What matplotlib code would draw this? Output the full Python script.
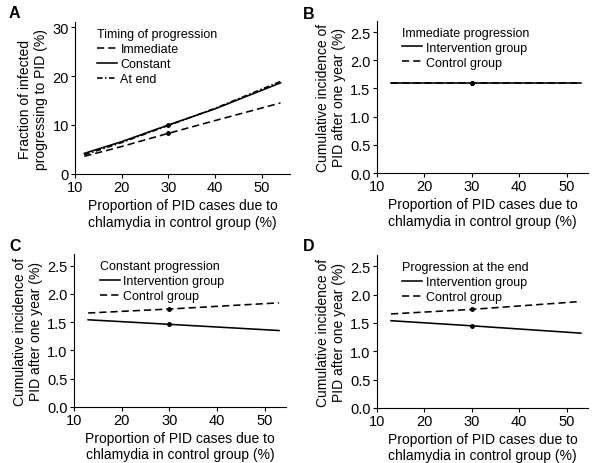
import matplotlib
matplotlib.use("Agg")
import matplotlib.pyplot as plt
from matplotlib.lines import Line2D

plt.rcParams['font.family'] = ['Liberation Sans', 'DejaVu Sans']
plt.rcParams['font.size'] = 9.5

# panel A: fraction progressing to PID
xa = [12, 20, 30, 40, 54]
a_immediate = [3.6, 5.6, 8.3, 10.9, 14.5]
a_constant = [4.2, 6.6, 10.0, 13.3, 18.6]
a_atend = [3.9, 6.4, 9.9, 13.4, 18.9]
a_dot_x = [30, 30]
a_dot_y = [8.3, 10.0]

# panels B-D: cumulative incidence after one year
xb = [13, 30, 53]
b_interv = [1.60, 1.60, 1.60]
b_control = [1.59, 1.59, 1.59]
c_interv = [1.54, 1.46, 1.35]
c_control = [1.66, 1.73, 1.84]
d_interv = [1.54, 1.45, 1.32]
d_control = [1.66, 1.74, 1.88]

xlabel = "Proportion of PID cases due to\nchlamydia in control group (%)"
ylabel_bcd = "Cumulative incidence of\nPID after one year (%)"

fig = plt.figure(figsize=(6, 4.64), dpi=100)
axA = fig.add_axes([0.125, 0.623, 0.358, 0.327])
axB = fig.add_axes([0.628, 0.625, 0.352, 0.328])
axC = fig.add_axes([0.123, 0.121, 0.354, 0.329])
axD = fig.add_axes([0.628, 0.119, 0.352, 0.329])

def style(ax):
    for s in ['top', 'right']:
        ax.spines[s].set_visible(False)
    ax.tick_params(direction='out', length=3, width=0.8, labelsize=10.5, pad=1.5)
    ax.set_xlabel(xlabel, fontsize=10, labelpad=3)

lw = 1.15
dash = (0, (4.5, 2.5))
dashdot = (0, (3.5, 1.5, 1, 1.5))
# A
axA.plot(xa, a_immediate, color='black', lw=lw, ls=dash)
axA.plot(xa, a_constant, color='black', lw=lw, ls='-')
axA.plot(xa, a_atend, color='black', lw=lw, ls=dashdot)
axA.plot(a_dot_x, a_dot_y, 'o', color='black', ms=2.5, ls='none')
axA.set_xlim(10, 56)
axA.set_ylim(0, 31)
axA.set_xticks([10, 20, 30, 40, 50])
axA.set_yticks([0, 10, 20, 30])
axA.set_ylabel("Fraction of infected\nprogressing to PID (%)", fontsize=10, labelpad=3)
style(axA)
hA = [Line2D([], [], color='black', lw=lw, ls=dash),
      Line2D([], [], color='black', lw=lw, ls='-'),
      Line2D([], [], color='black', lw=lw, ls=dashdot)]
axA.legend(hA, ["Immediate", "Constant", "At end"], title="Timing of progression",
           loc='upper left', bbox_to_anchor=(0.06, 1.02), frameon=False,
           fontsize=9, title_fontsize=9, handlelength=1.6, handletextpad=0.3,
           labelspacing=0.25, borderpad=0.2, alignment='left')

def incidence(ax, xs, interv, control, title):
    ax.plot(xs, interv, color='black', lw=lw, ls='-')
    ax.plot(xs, control, color='black', lw=lw, ls=dash)
    ax.plot([xs[1], xs[1]], [interv[1], control[1]], 'o', color='black', ms=2.5, ls='none')
    ax.set_xlim(10, 54.5)
    ax.set_ylim(0, 2.7)
    ax.set_xticks([10, 20, 30, 40, 50])
    ax.set_yticks([0.0, 0.5, 1.0, 1.5, 2.0, 2.5])
    ax.set_yticklabels(["0.0", "0.5", "1.0", "1.5", "2.0", "2.5"])
    ax.set_ylabel(ylabel_bcd, fontsize=10, labelpad=3)
    style(ax)
    h = [Line2D([], [], color='black', lw=lw, ls='-'),
         Line2D([], [], color='black', lw=lw, ls=dash)]
    ax.legend(h, ["Intervention group", "Control group"], title=title,
              loc='upper left', bbox_to_anchor=(0.08, 1.02), frameon=False,
              fontsize=9, title_fontsize=9, handlelength=1.6, handletextpad=0.3,
              labelspacing=0.25, borderpad=0.2, alignment='left')

incidence(axB, xb, b_interv, b_control, "Immediate progression")
incidence(axC, xb, c_interv, c_control, "Constant progression")
incidence(axD, xb, d_interv, d_control, "Progression at the end")

for lab, x, y in [("A", 0.015, 0.988), ("B", 0.505, 0.985), ("C", 0.015, 0.485), ("D", 0.505, 0.485)]:
    fig.text(x, y, lab, fontsize=11.5, fontweight='bold', va='top', ha='left')

fig.savefig("out.png", dpi=100)
